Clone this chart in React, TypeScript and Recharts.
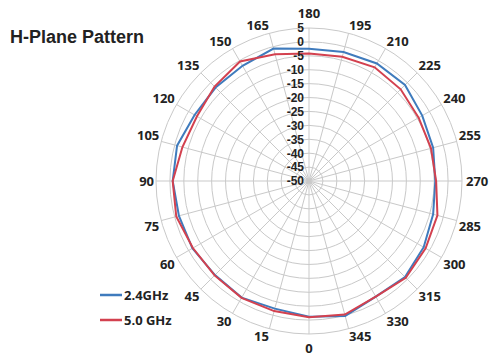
import React from "react";
import {
  RadarChart,
  Radar,
  PolarGrid,
  PolarAngleAxis,
  PolarRadiusAxis,
  Legend,
} from "recharts";

// angles listed clockwise starting from the top of the plot
const ANGLES = [
  "180", "195", "210", "225", "240", "255", "270", "285", "300", "315", "330", "345",
  "0", "15", "30", "45", "60", "75", "90", "105", "120", "135", "150", "165",
];

const GHZ_24 = [
  -2.5, -2, -1.2, -1.2, -3, -3.8, -4.6, -3.8, -2.4, -1.2, -2, 0.2,
  -1.2, -2.5, -1.6, -2.2, -1.6, -1.6, -1, -0.9, -2.5, -2.5, -2.2, -0.7,
];

const GHZ_50 = [
  -4.2, -3.8, -2.8, -3.4, -4.5, -4.6, -4.3, -2.2, -1.6, -0.8, -2, -0.3,
  -1, -1.6, -1.5, -2, -1.8, -0.6, -1, -2.9, -3.5, -2, -0.4, -2.8,
];

const DB_TICKS = [-50, -45, -40, -35, -30, -25, -20, -15, -10, -5, 0, 5];

const BLUE = "#3f7bbd";
const RED = "#d3414f";
const FONT = "'Open Sans', 'Liberation Sans', sans-serif";
const FONT_NARROW = "'Liberation Sans', Arial, sans-serif";

const data = ANGLES.map((angle, i) => ({
  angle,
  g24: GHZ_24[i],
  g50: GHZ_50[i],
}));

const AngleTick = (props: any) => {
  const { x, y, payload } = props;
  const a = (payload.coordinate * Math.PI) / 180;
  const c = Math.cos(a);
  const s = Math.sin(a);
  const cap = 9.3;
  let anchor = "middle";
  let tx = x;
  if (c > 0.01) anchor = "start";
  else if (c < -0.01) anchor = "end";
  let ty = y;
  if (s > 0.99) ty = y - 8;
  else if (s > 0.01) ty = y - 1;
  else if (s < -0.99) ty = y + cap + 8;
  else if (s < -0.01) ty = y + cap + 1;
  else {
    ty = y + cap / 2;
    tx = c > 0 ? x + 2 : x;
  }
  return (
    <text
      x={tx}
      y={ty}
      textAnchor={anchor}
      fontFamily={FONT}
      fontWeight={700}
      fontSize={13}
      fill="#222"
    >
      {payload.value}
    </text>
  );
};

const DbTick = (props: any) => {
  const { x, y, payload } = props;
  return (
    <text
      x={x - 5}
      y={y}
      dy="0.36em"
      textAnchor="end"
      fontFamily={FONT_NARROW}
      fontWeight={700}
      fontSize={12}
      fill="#222"
    >
      {payload.value}
    </text>
  );
};

const renderLegend = (props: any) => {
  const { payload } = props;
  return (
    <div>
      {payload.map((entry: any) => (
        <div
          key={entry.value}
          style={{ display: "flex", alignItems: "center", height: 24.5 }}
        >
          <svg width={24} height={6}>
            <line x1={0} y1={3} x2={22} y2={3} stroke={entry.color} strokeWidth={2.5} />
          </svg>
          <span
            style={{
              fontFamily: FONT,
              fontWeight: 700,
              fontSize: 13,
              color: "#222",
            }}
          >
            {entry.value}
          </span>
        </div>
      ))}
    </div>
  );
};

export default function App() {
  return (
    <div
      style={{
        position: "absolute",
        left: 0,
        top: 0,
        width: 491,
        height: 362,
        background: "#fff",
      }}
    >
      <div
        style={{
          position: "absolute",
          left: 10,
          top: 28,
          fontFamily: FONT_NARROW,
          fontWeight: 700,
          fontSize: 18,
          lineHeight: "18px",
          color: "#222",
          zIndex: 2,
        }}
      >
        H-Plane Pattern
      </div>
      <RadarChart
        width={491}
        height={362}
        data={data}
        cx={309}
        cy={181}
        outerRadius={153}
        startAngle={90}
        endAngle={-270}
        margin={{ top: 0, right: 0, bottom: 0, left: 0 }}
      >
        <PolarGrid gridType="circle" stroke="#c9c9c9" strokeWidth={1} />
        <PolarAngleAxis
          dataKey="angle"
          tick={AngleTick}
          tickLine={false}
          tickSize={2}
          axisLine={false}
        />
        <PolarRadiusAxis
          angle={90}
          type="number"
          domain={[-50, 5]}
          ticks={DB_TICKS}
          tickCount={12}
          tick={DbTick}
          axisLine={false}
          tickLine={false}
        />
        <Radar
          name="2.4GHz"
          dataKey="g24"
          stroke={BLUE}
          strokeWidth={2}
          fill="none"
          fillOpacity={0}
          dot={false}
          isAnimationActive={false}
        />
        <Radar
          name="5.0 GHz"
          dataKey="g50"
          stroke={RED}
          strokeWidth={2}
          fill="none"
          fillOpacity={0}
          dot={false}
          isAnimationActive={false}
        />
        <Legend
          content={renderLegend}
          wrapperStyle={{ position: "absolute", left: 100, top: 283, width: "auto" }}
        />
      </RadarChart>
    </div>
  );
}
